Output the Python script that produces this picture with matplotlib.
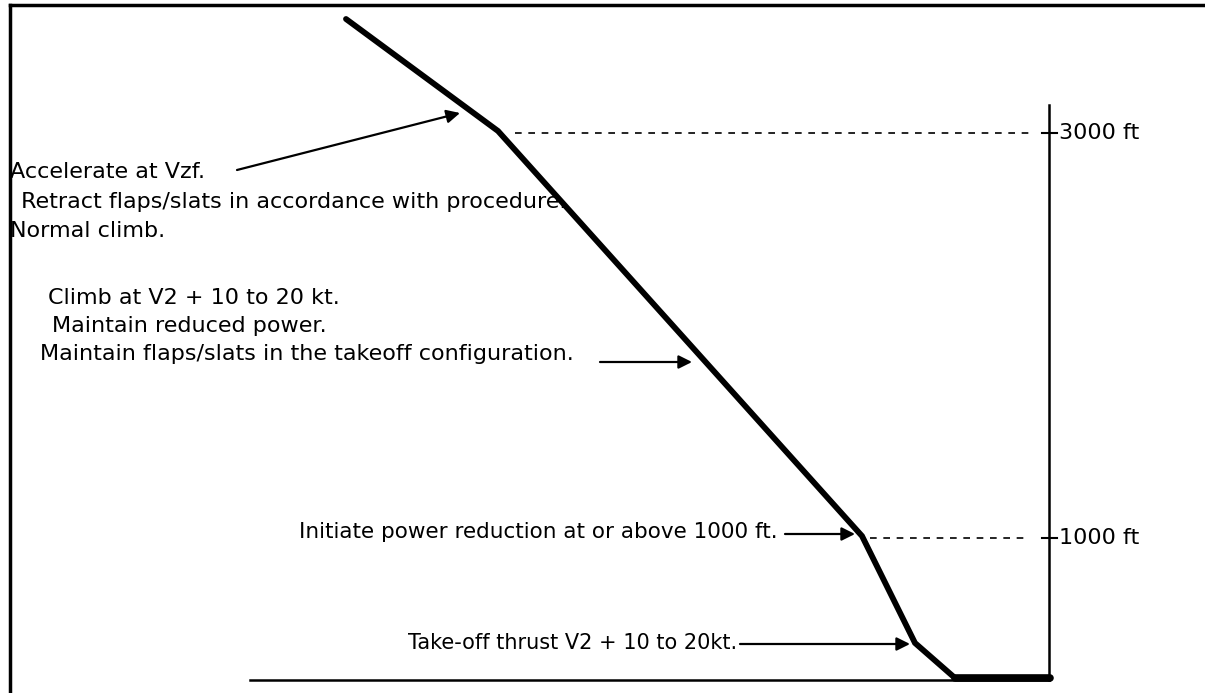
import matplotlib.pyplot as plt

# climb profile (drawing units = pixels of the original sketch)
path_x = [346, 498, 862, 915, 955, 1050]
path_y = [19, 131, 536, 643, 678, 678]

alt_labels = ["3000 ft", "1000 ft"]
alt_y = [133, 538]
dash_start = [515, 870]
axis_x = 1049

notes_top = ["Accelerate at Vzf.",
             " Retract flaps/slats in accordance with procedure.",
             "Normal climb."]
notes_top_x = [10, 14, 10]
notes_top_y = [172, 202, 231]

notes_mid = ["Climb at V2 + 10 to 20 kt.",
             "Maintain reduced power.",
             "Maintain flaps/slats in the takeoff configuration."]
notes_mid_x = [48, 52, 40]
notes_mid_y = [298, 326, 354]

notes_low = ["Initiate power reduction at or above 1000 ft.",
             "Take-off thrust V2 + 10 to 20kt."]
notes_low_x = [778, 737]
notes_low_y = [532, 643]
notes_low_size = [15.5, 15]

fig = plt.figure(figsize=(12.05, 6.93), dpi=100)
ax = fig.add_axes([0, 0, 1, 1])
ax.set_xlim(0, 1205)
ax.set_ylim(693, 0)
ax.axis("off")

# frame (top and left only)
ax.plot([10, 1205], [5, 5], color="black", lw=2.5)
ax.plot([10, 10], [5, 693], color="black", lw=2.5)

# ground and altitude axis
ax.plot([250, axis_x], [680, 680], color="black", lw=1.8)
ax.plot([axis_x, axis_x], [105, 680], color="black", lw=1.8)

ax.plot(path_x, path_y, color="black", lw=4.2, solid_capstyle="round",
        solid_joinstyle="miter")
ax.plot(path_x[-2:], path_y[-2:], color="black", lw=5.5, solid_capstyle="round")

for lab, y, xs in zip(alt_labels, alt_y, dash_start):
    ax.plot([xs, 1030], [y, y], color="black", lw=1.2, linestyle=(0, (4, 4)))
    ax.plot([axis_x - 7, axis_x + 8], [y, y], color="black", lw=1.5)
    ax.text(axis_x + 10, y, lab, fontsize=16, va="center", ha="left",
            family="DejaVu Sans")

for t, x, y in zip(notes_top, notes_top_x, notes_top_y):
    ax.text(x, y, t, fontsize=16, va="center", ha="left", family="DejaVu Sans")
for t, x, y in zip(notes_mid, notes_mid_x, notes_mid_y):
    ax.text(x, y, t, fontsize=16, va="center", ha="left", family="DejaVu Sans")
for t, x, y, s in zip(notes_low, notes_low_x, notes_low_y, notes_low_size):
    ax.text(x, y, t, fontsize=s, va="center", ha="right", family="DejaVu Sans")

arrows = [((237, 170), (460, 113)),
          ((600, 362), (692, 362)),
          ((785, 534), (855, 534)),
          ((740, 644), (910, 644))]
for (x0, y0), (x1, y1) in arrows:
    ax.annotate("", xy=(x1, y1), xytext=(x0, y0),
                arrowprops=dict(arrowstyle="-|>", color="black", lw=1.6,
                                mutation_scale=20, shrinkA=0, shrinkB=0))

fig.savefig("out.png", dpi=100)
